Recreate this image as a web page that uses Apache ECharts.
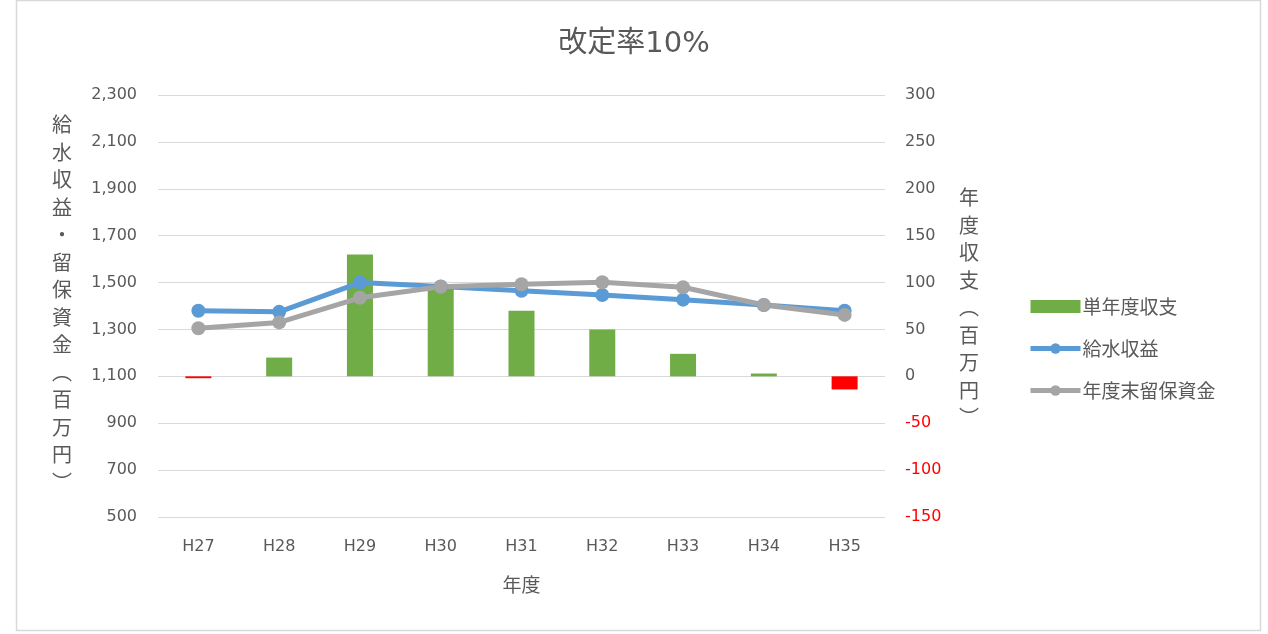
<!DOCTYPE html>
<html><head><meta charset="utf-8">
<script src="https://cdn.jsdelivr.net/npm/echarts@6/dist/echarts.min.js"></script>
<style>html,body{margin:0;padding:0;background:#fff}#c{width:1268px;height:634px}</style>
</head><body><div id="c"></div>
<script>
const categories = ['H27','H28','H29','H30','H31','H32','H33','H34','H35'];
const balance = [-2, 20, 130, 95, 70, 50, 24, 3, -14];          // 単年度収支
const revenue = [1380, 1375, 1500, 1483, 1465, 1447, 1427, 1404, 1380]; // 給水収益
const reserve = [1305, 1330, 1435, 1482, 1493, 1501, 1480, 1404, 1362]; // 年度末留保資金
const leftTicks = {min: 500, max: 2300, interval: 200};
const rightTicks = {min: -150, max: 300, interval: 50};
const title = '改定率10%';
const leftName = ['給','水','収','益','・','留','保','資','金','︵','百','万','円','︶'];
const rightName = ['年','度','収','支','︵','百','万','円','︶'];

const FONT = '"Noto Sans CJK JP", "Noto Sans", sans-serif';
const NUMFONT = '"DejaVu Sans", "Noto Sans CJK JP", sans-serif';
const TXT = '#595959';
const chart = echarts.init(document.getElementById('c'), null, {renderer:'canvas'});
chart.setOption({
  backgroundColor: '#fff',
  textStyle: {fontFamily: FONT},
  animation: false,
  title: {text: title, left: 'center', top: 25, textStyle: {fontFamily: NUMFONT, fontSize: 29, fontWeight: 'normal', color: TXT}},
  graphic: [
    {type:'rect', shape:{x:16.5, y:0.5, width:1244, height:630}, style:{fill:'none', stroke:'#D9D9D9', lineWidth:1.5}, silent:true, z:-1},
    {type:'text', left: 52, top: 111, style:{text: leftName.join('\n'), fontFamily: FONT, fontSize: 20, lineHeight: 27.5, fill: TXT, align:'center'}},
    {type:'text', left: 959, top: 184, style:{text: rightName.join('\n'), fontFamily: FONT, fontSize: 20, lineHeight: 27.5, fill: TXT, align:'center'}}
  ],
  legend: {
    orient: 'vertical', left: 1023, top: 292, itemGap: 23, itemWidth: 50, itemHeight: 13,
    textStyle: {fontFamily: FONT, fontSize: 19, color: TXT, padding:[0,0,0,-3]},
    data: [
      {name:'単年度収支', icon:'rect', itemStyle:{color:'#70AD47'}},
      {name:'給水収益', lineStyle:{width:5}},
      {name:'年度末留保資金', lineStyle:{width:5}}
    ]
  },
  grid: {left: 158, right: 383, top: 95, bottom: 117, containLabel: false},
  xAxis: {
    type: 'category', data: categories,
    axisLine: {show: false}, axisTick: {show: false},
    axisLabel: {fontFamily: NUMFONT, fontSize: 16, color: TXT, margin: 22},
    name: '年度', nameLocation: 'middle', nameGap: 58,
    nameTextStyle: {fontFamily: FONT, fontSize: 19, color: TXT}
  },
  yAxis: [
    {type:'value', min:leftTicks.min, max:leftTicks.max, interval:leftTicks.interval,
     axisLine:{show:false}, axisTick:{show:false},
     splitLine:{lineStyle:{color:'#D9D9D9', width:1}},
     axisLabel:{fontFamily: NUMFONT, fontSize:16, color:TXT, margin:21,
       formatter: v => v.toLocaleString('en-US')}},
    {type:'value', min:rightTicks.min, max:rightTicks.max, interval:rightTicks.interval,
     axisLine:{show:false}, axisTick:{show:false}, splitLine:{show:false},
     axisLabel:{fontFamily: NUMFONT, fontSize:16, margin:20,
       formatter: v => v < 0 ? '{n|' + v + '}' : '{p|' + v + '}',
       rich: {n:{color:'#FF0000', fontSize:16, fontFamily: NUMFONT}, p:{color:TXT, fontSize:16, fontFamily: NUMFONT}}}}
  ],
  series: [
    {name:'単年度収支', type:'bar', yAxisIndex:1, barWidth: 26,
     itemStyle:{color:'#70AD47'},
     data: balance.map(v => v < 0 ? {value:v, itemStyle:{color:'#FF0000'}} : v)},
    {name:'給水収益', type:'line', yAxisIndex:0, data: revenue,
     symbol:'circle', symbolSize: 14, lineStyle:{width:5, color:'#5B9BD5'}, itemStyle:{color:'#5B9BD5'}},
    {name:'年度末留保資金', type:'line', yAxisIndex:0, data: reserve,
     symbol:'circle', symbolSize: 14, lineStyle:{width:5, color:'#A5A5A5'}, itemStyle:{color:'#A5A5A5'}}
  ]
});
</script></body></html>
